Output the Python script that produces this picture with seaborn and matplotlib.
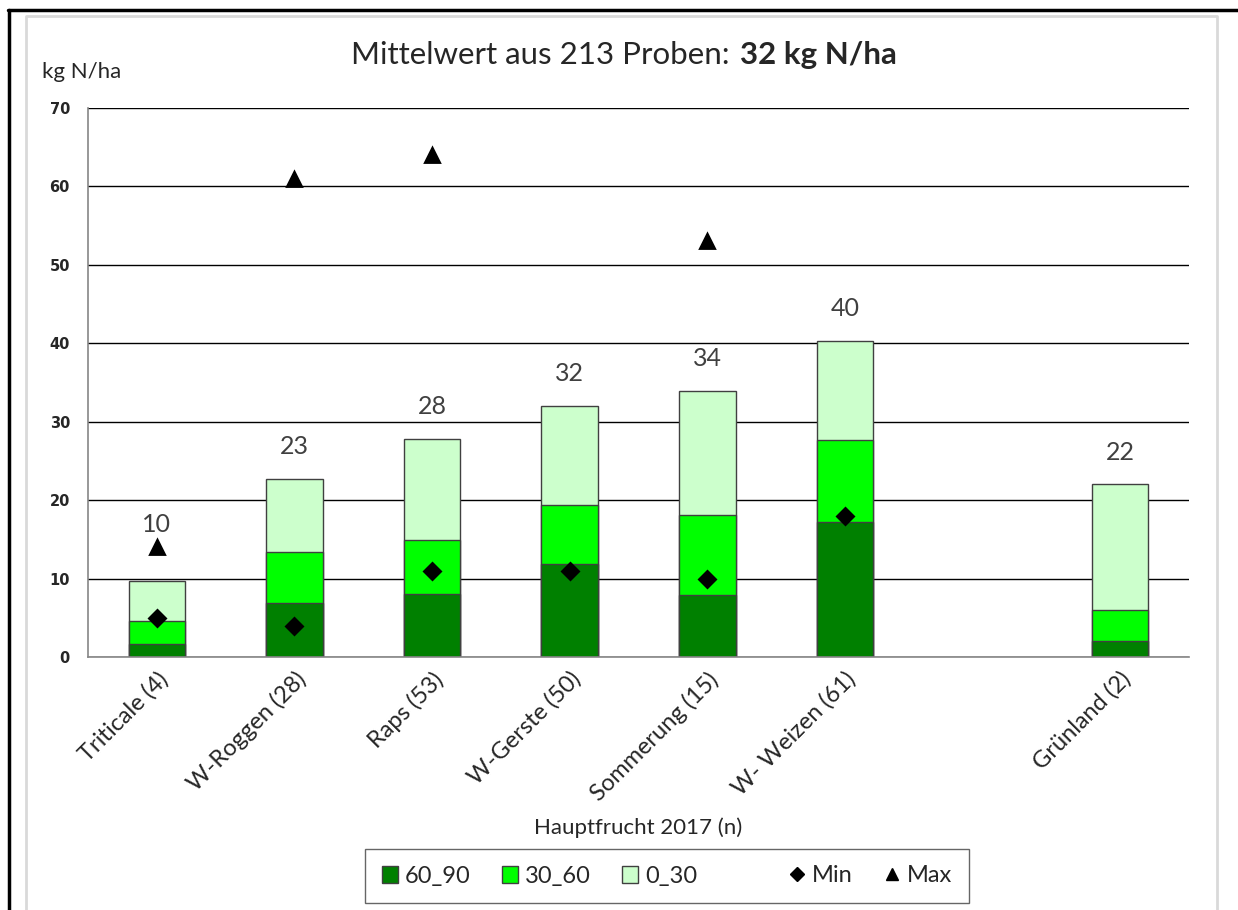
import numpy as np
import pandas as pd
import matplotlib.pyplot as plt
import seaborn as sns
from matplotlib.patches import Patch
from matplotlib.lines import Line2D

# === data ===
categories = ["Triticale (4)", "W-Roggen (28)", "Raps (53)", "W-Gerste (50)",
              "Sommerung (15)", "W- Weizen (61)", "", "Grünland (2)"]
s60_90 = [1.7, 6.9, 8.0, 11.9, 7.9, 17.2, np.nan, 2.0]
s30_60 = [2.9, 6.5, 6.9, 7.5, 10.2, 10.5, np.nan, 4.0]
s0_30 = [5.1, 9.3, 12.9, 12.6, 15.8, 12.6, np.nan, 16.0]
min_vals = [5, 4, 11, 11, 10, 18, np.nan, np.nan]
max_vals = [14, 61, 64, np.nan, 53, np.nan, np.nan, np.nan]

df = pd.DataFrame({"Frucht": categories, "s60_90": s60_90, "s30_60": s30_60,
                   "s0_30": s0_30, "Min": min_vals, "Max": max_vals})
df["cum2"] = df["s60_90"] + df["s30_60"]
df["total"] = df["cum2"] + df["s0_30"]

col_60_90 = "#008000"
col_30_60 = "#00ff00"
col_0_30 = "#ccffcc"
edge = "#404040"

sns.set_style("white")
plt.rcParams["font.family"] = ["Lato", "DejaVu Sans"]

fig = plt.figure(figsize=(12.38, 9.10), dpi=100)
ax = fig.add_axes([88 / 1238, 1 - 657 / 910, (1189 - 88) / 1238, (657 - 108) / 910])

# === stacked bars: draw cumulative heights from top layer down ===
bar_kw = dict(order=categories, width=0.41, edgecolor=edge, linewidth=1,
              saturation=1, errorbar=None, ax=ax)
sns.barplot(data=df, x="Frucht", y="total", color=col_0_30, **bar_kw)
sns.barplot(data=df, x="Frucht", y="cum2", color=col_30_60, **bar_kw)
sns.barplot(data=df, x="Frucht", y="s60_90", color=col_60_90, **bar_kw)

# === min / max markers ===
sns.pointplot(data=df, x="Frucht", y="Min", order=categories, linestyle="none",
              marker="D", color="black", markersize=8, errorbar=None, ax=ax)
sns.pointplot(data=df, x="Frucht", y="Max", order=categories, linestyle="none",
              marker="^", color="black", markersize=10, errorbar=None, ax=ax)

# value labels above bars
for i, row in df.iterrows():
    if np.isnan(row["total"]):
        continue
    y, off = row["total"], 15
    if not np.isnan(row["Max"]) and row["Max"] - row["total"] < 8:
        y, off = row["Max"], 8
    ax.annotate(f"{row['total']:.0f}", (i, y), xytext=(0, off), textcoords="offset points",
                ha="center", va="bottom", fontsize=18, color="#404040")

# === axes styling ===
ax.set_ylim(0, 70)
ax.set_yticks(range(0, 71, 10))
ax.set_xlim(-0.5, len(categories) - 0.5)
ax.set_xticks(range(len(categories)))
ax.set_xticklabels(categories, rotation=45, ha="right", rotation_mode="anchor", fontsize=17)
ax.set_xticks(np.arange(-0.5, len(categories), 1), minor=True)
ax.tick_params(axis="x", which="major", length=0, pad=8)
ax.tick_params(axis="x", which="minor", length=8, color="#868686", width=1, direction="out")
ax.tick_params(axis="y", length=5, color="#868686", width=1, direction="out", pad=8)
for lab in ax.get_yticklabels():
    lab.set_fontfamily("DejaVu Sans")
    lab.set_fontweight("bold")
    lab.set_fontsize(10.5)
ax.yaxis.grid(True, color="black", linewidth=1)
ax.set_axisbelow(True)
for side in ["top", "right"]:
    ax.spines[side].set_visible(False)
for side in ["left", "bottom"]:
    ax.spines[side].set_color("#868686")
    ax.spines[side].set_linewidth(1.2)
ax.set_xlabel("")
ax.set_ylabel("")

# titles and axis texts
fig.text(738 / 1238, 1 - 55 / 910, "Mittelwert aus 213 Proben: ", ha="right", va="center", fontsize=22.5)
fig.text(740 / 1238, 1 - 55 / 910, "32 kg N/ha", ha="left", va="center", fontsize=22.5, fontweight="bold")
fig.text(42 / 1238, 1 - 72 / 910, "kg N/ha", ha="left", va="center", fontsize=16)
fig.text(638 / 1238, 1 - 828 / 910, "Hauptfrucht 2017 (n)", ha="center", va="center", fontsize=16)

# legend
handles = [Patch(facecolor=col_60_90, edgecolor=edge, label="60_90"),
           Patch(facecolor=col_30_60, edgecolor=edge, label="30_60"),
           Patch(facecolor=col_0_30, edgecolor=edge, label="0_30"),
           Patch(facecolor="none", edgecolor="none", label=" "),
           Line2D([], [], marker="D", color="black", linestyle="none", markersize=7, label="Min"),
           Line2D([], [], marker="^", color="black", linestyle="none", markersize=9, label="Max")]
leg = fig.legend(handles=handles, loc="center", bbox_to_anchor=(667 / 1238, 1 - 876 / 910),
                 ncol=6, fontsize=17, frameon=True, fancybox=False, handlelength=0.7,
                 handleheight=0.7, handletextpad=0.3, columnspacing=1.3, borderpad=0.7)
leg.get_frame().set_edgecolor(edge)
leg.get_frame().set_linewidth(1)

# outer frame lines
fig.add_artist(Line2D([8 / 1238, 1], [1 - 10 / 910] * 2, color="black", linewidth=2.5))
fig.add_artist(Line2D([9 / 1238] * 2, [0, 1 - 10 / 910], color="black", linewidth=2.5))
fig.add_artist(Line2D([26 / 1238, 26 / 1238, 1217 / 1238, 1217 / 1238],
                      [0, 1 - 16 / 910, 1 - 16 / 910, 0], color="#d9d9d9", linewidth=2))

fig.savefig("out.png", dpi=100)
